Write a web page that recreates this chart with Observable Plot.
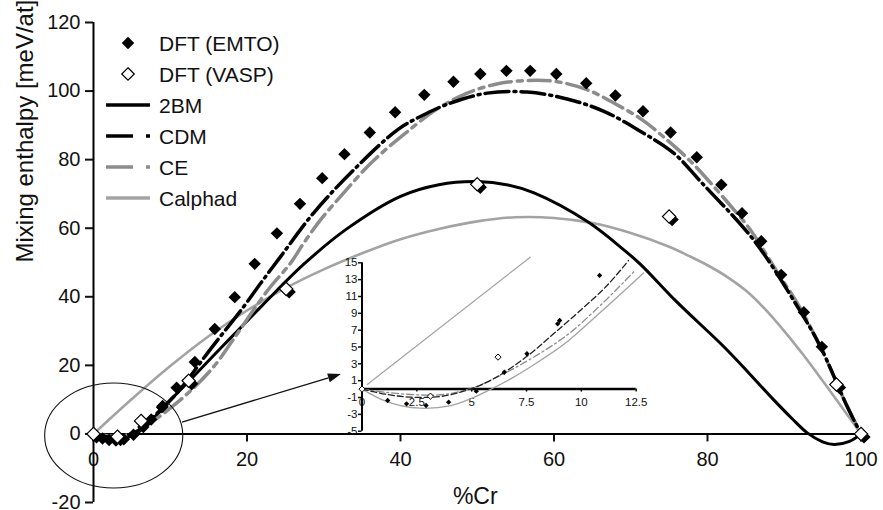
<!DOCTYPE html>
<html>
<head>
<meta charset="utf-8">
<script src="https://cdn.jsdelivr.net/npm/d3@7"></script>
<script src="https://cdn.jsdelivr.net/npm/@observablehq/plot@0.6"></script>
<style>
  html, body { margin: 0; padding: 0; background: #fff; }
  #wrap { position: relative; width: 883px; height: 510px; }
  #wrap svg { position: absolute; left: 0; top: 0; }
</style>
</head>
<body>
<div id="wrap"></div>
<script>
// ---------- main chart data ----------
const xTicks = [0, 20, 40, 60, 80, 100];
const yTicks = [-20, 0, 20, 40, 60, 80, 100, 120];

const emto = [[1.17,-1.35],[2.03,-1.75],[2.92,-1.95],[3.95,-1.55],[5.21,-0.25],[6.49,2.0],[7.52,4.2],[8.92,7.75],[9.01,8.15],[10.83,13.5],[13.2,21.0],[15.8,30.6],[18.4,39.9],[21.0,49.6],[23.9,58.5],[26.9,67.1],[29.8,74.6],[32.7,81.6],[36.0,87.9],[39.3,93.8],[43.1,98.9],[46.9,102.7],[50.4,105.0],[53.8,105.9],[56.9,105.9],[60.3,105.0],[64.2,102.3],[68.0,98.7],[71.6,94.1],[75.2,87.9],[78.6,80.7],[81.8,72.7],[84.5,64.4],[87.0,56.2],[89.6,46.4],[92.55,35.5],[94.9,25.4]];
const vasp = [[0,0],[3.12,-0.8],[6.2,3.8],[12.4,15.5],[25.1,42.3],[50,72.8],[75,63.4],[96.8,14.4],[100,0]];

const bm2 = [[0,0],[1.5,-1.2],[3,-1.6],[4.5,-1.0],[6,0.8],[8,5],[10,9.8],[12.5,15.5],[17,26],[22,37.5],[27.4,49.5],[33,59.8],[40,69.3],[45,72.7],[50,73.6],[54,72.6],[57.4,70.3],[64.3,62],[69.1,53.7],[71.3,49.4],[76,38.5],[82.1,25.5],[85.5,17.5],[88.6,10],[91,4.5],[93,0.3],[95,-2.3],[96.5,-3.1],[98.5,-2.2],[100,0]];
const cdm = [[0,0],[1.2,-0.6],[2.2,-1],[3.6,-0.9],[4.6,-0.2],[5.7,0.8],[7.4,4.2],[10.9,12],[15.2,24.6],[19.6,37.2],[21.8,44],[24.4,51.8],[28.7,64.5],[33.9,77],[39.6,88.7],[42.6,92.6],[46.5,96.5],[51.3,99.4],[56.5,99.7],[61.7,97.7],[66.5,94.1],[71.3,88.2],[75.6,81.9],[79.1,73.6],[86,56.6],[91.7,37.2],[94.7,25.5],[98.2,8],[100,0]];
const ce = [[0,0],[1.2,-0.4],[2.5,-0.7],[3.7,-0.6],[5,0.2],[6.3,1.6],[7.8,3.8],[10,7.5],[12.6,12.5],[15.7,19.7],[18.2,27.5],[22.6,41.6],[25.7,49.9],[27.4,55.7],[29.6,62.5],[32.6,70.3],[35.7,78],[38.3,83.4],[40.9,88.2],[44.7,94.7],[48.7,99.4],[52.4,102],[56.5,103.1],[60.2,102.8],[64.3,100.4],[67.8,96.5],[71.5,91.6],[74.7,85.8],[77.8,79.5],[80.6,72.7],[83.4,65.5],[85.6,59.5],[89,47.5],[92,37],[95,24],[98,9],[100,0]];
const calphad = [[0,0],[5,10.2],[10,19.8],[15,28.5],[20,36],[25,42.5],[30,48],[35,52.7],[40,56.8],[45,59.8],[50,62],[55,63.2],[60,63],[65,61.5],[70,58.6],[75,54.6],[77.5,52],[80,49.2],[82.5,45.9],[85,41.8],[87.5,36.4],[90,30],[92.5,23],[95,15.5],[97.5,7.8],[100,0]];

const legendLabels = ["DFT (EMTO)", "DFT (VASP)", "2BM", "CDM", "CE", "Calphad"];

// ---------- inset data ----------
const insetXTicks = [0, 2.5, 5, 7.5, 10, 12.5];
const insetYTicks = [-5, -3, -1, 1, 3, 5, 7, 9, 11, 13, 15];
const insetEmto = emto.filter(d => d[0] <= 12.5);
const insetVasp = [[0,0],[3.12,-0.84],[6.2,3.8]];
const insetCalphad = [[0.24,0.55],[7.67,15.66]];
const insetLower = [[0,0],[0.99,-1.35],[1.75,-1.95],[2.66,-2.27],[3.95,-2.03],[4.94,-1.16],[5.85,-0.05],[6.91,1.42],[8.13,3.4],[9.34,5.6],[10.86,9.1],[12.38,12.7],[12.83,13.8]];
const insetCdm = [[0,0],[1.15,-0.64],[2.21,-0.96],[3.57,-0.88],[4.64,-0.24],[5.7,0.82],[6.61,2.2],[7.67,4.19],[8.73,6.56],[9.95,9.33],[11.17,12.3],[12.15,15.27]];
const insetCe = [[0,0],[1.15,-0.4],[2.51,-0.68],[3.72,-0.64],[5,0.1],[6.31,1.62],[7.82,3.79],[9.34,6.4],[10.86,9.93],[12.38,13.9]];

// annotation (data units of main chart)
const zoomEllipse = {cx: 2.7, cy: -0.6, rx: 9.0, ry: 15.3};
const zoomArrow = {x1: 11.6, y1: 3.3, x2: 32.3, y2: 17.3};

const FONT = "'Liberation Sans', Arial, Helvetica, sans-serif";
const INK = "#111";
const GRAY1 = "#a3a3a3";
const GRAY2 = "#8c8c8c";

// ---------- main plot geometry ----------
const W = 883, H = 510;
const mL = 93, mR = 22.5, mT = 22, mB = 8;
const yDom = [d3.min(yTicks), d3.max(yTicks)];
const xDom = [d3.min(xTicks), d3.max(xTicks)];
const xAxisShift = -((0 - yDom[0]) / (yDom[1] - yDom[0])) * (H - mT - mB);

const X = d => d[0], Y = d => d[1];

function annotationMark(index, scales) {
  const {x, y} = scales;
  const g = d3.create("svg:g");
  const e = zoomEllipse;
  g.append("ellipse")
    .attr("cx", x(e.cx)).attr("cy", y(e.cy))
    .attr("rx", x(e.cx + e.rx) - x(e.cx)).attr("ry", y(e.cy) - y(e.cy + e.ry))
    .attr("fill", "none").attr("stroke", INK).attr("stroke-width", 1.1);
  const a = zoomArrow;
  const x1 = x(a.x1), y1 = y(a.y1), x2 = x(a.x2), y2 = y(a.y2);
  const ang = Math.atan2(y2 - y1, x2 - x1);
  const hl = 13, hw = 4.5;
  const bx = x2 - hl * Math.cos(ang), by = y2 - hl * Math.sin(ang);
  g.append("line").attr("x1", x1).attr("y1", y1).attr("x2", bx).attr("y2", by)
    .attr("stroke", INK).attr("stroke-width", 1.3);
  const px = -Math.sin(ang), py = Math.cos(ang);
  g.append("path")
    .attr("d", `M${x2},${y2}L${bx + hw * px},${by + hw * py}L${bx - hw * px},${by - hw * py}Z`)
    .attr("fill", INK);
  return g.node();
}

function legendMark() {
  const g = d3.create("svg:g").attr("font-family", FONT).attr("font-size", 21)
    .attr("fill", INK).attr("text-anchor", "start");
  const top = 43, step = 31, symX = 128, lineX1 = 106, lineX2 = 150, textX = 159;
  const diamond = d3.symbol(d3.symbolDiamond2, 100);
  const styles = [
    null, null,
    {stroke: "#000", w: 3.5, dash: null},
    {stroke: "#000", w: 3.5, dash: "27,13,4,20"},
    {stroke: GRAY2, w: 3.5, dash: "27,13,4,20"},
    {stroke: GRAY1, w: 3.5, dash: null}
  ];
  legendLabels.forEach((label, i) => {
    const yy = top + i * step;
    if (i === 0) {
      g.append("path").attr("d", diamond()).attr("transform", `translate(${symX},${yy})`).attr("fill", "#000");
    } else if (i === 1) {
      g.append("path").attr("d", diamond()).attr("transform", `translate(${symX},${yy})`)
        .attr("fill", "#fff").attr("stroke", "#000").attr("stroke-width", 1.2);
    } else {
      const s = styles[i];
      const ln = g.append("line").attr("x1", lineX1).attr("x2", lineX2).attr("y1", yy).attr("y2", yy)
        .attr("stroke", s.stroke).attr("stroke-width", s.w);
      if (s.dash) ln.attr("stroke-dasharray", s.dash);
    }
    g.append("text").attr("x", textX).attr("y", yy).attr("dy", "0.36em").text(label);
  });
  return g.node();
}

const main = Plot.plot({
  width: W, height: H,
  marginLeft: mL, marginRight: mR, marginTop: mT, marginBottom: mB,
  style: {fontFamily: FONT, color: INK, background: "white", overflow: "visible"},
  x: {domain: xDom},
  y: {domain: yDom},
  marks: [
    Plot.axisY({ticks: yTicks, tickSize: 8, tickPadding: 5, fontSize: 20, strokeWidth: 2, tickFormat: d => String(d), label: null}),
    Plot.axisX({ticks: xTicks, tickSize: 8, tickPadding: 10, fontSize: 20, strokeWidth: 2, dy: xAxisShift, tickFormat: d => String(d), label: null}),
    Plot.ruleX([xDom[0]], {y1: yDom[0], y2: yDom[1], stroke: "#000", strokeWidth: 2}),
    Plot.ruleY([0], {x1: xDom[0], x2: xDom[1], stroke: "#000", strokeWidth: 2}),
    Plot.text(["Mixing enthalpy [meV/at]"], {frameAnchor: "left", dx: -68, dy: 0, rotate: -90, fontSize: 24, fill: INK}),
    Plot.text(["%Cr"], {frameAnchor: "bottom", dy: -6, dx: -2, lineAnchor: "middle", fontSize: 23, fill: INK}),
    Plot.line(calphad, {x: X, y: Y, stroke: GRAY1, strokeWidth: 2.6, curve: "catmull-rom"}),
    Plot.line(bm2, {x: X, y: Y, stroke: "#000", strokeWidth: 3, curve: "catmull-rom"}),
    Plot.line(ce, {x: X, y: Y, stroke: GRAY2, strokeWidth: 3.5, strokeDasharray: "22,6,5,6", curve: "catmull-rom"}),
    Plot.line(cdm, {x: X, y: Y, stroke: "#000", strokeWidth: 3.5, strokeDasharray: "24,5,2,5", curve: "catmull-rom"}),
    annotationMark,
    Plot.dot(emto, {x: X, y: Y, symbol: "diamond2", r: 5.6, fill: "#000", stroke: "none"}),
    Plot.dot(vasp, {x: X, y: Y, symbol: "diamond2", r: 6, fill: "#000", stroke: "none", dx: 3, dy: 3}),
    Plot.dot(vasp, {x: X, y: Y, symbol: "diamond2", r: 6, fill: "#fff", stroke: "#000", strokeWidth: 1.2}),
    legendMark
  ]
});

// ---------- inset plot geometry ----------
const iL = 361.5, iR = W - 635.7, iT = 262.3, iB = H - 430.7;
const iyDom = [d3.min(insetYTicks), d3.max(insetYTicks)];
const ixDom = [d3.min(insetXTicks), d3.max(insetXTicks)];
const insetAxisShift = -((0 - iyDom[0]) / (iyDom[1] - iyDom[0])) * (H - iT - iB);

const inset = Plot.plot({
  width: W, height: H,
  marginLeft: iL, marginRight: iR, marginTop: iT, marginBottom: iB,
  style: {fontFamily: FONT, color: INK, background: "transparent", overflow: "visible"},
  x: {domain: ixDom},
  y: {domain: iyDom},
  marks: [
    Plot.axisY({ticks: insetYTicks, tickSize: 3.5, tickPadding: 1, fontSize: 11.5, strokeWidth: 1.5, tickFormat: d => String(d), label: null}),
    Plot.axisX({ticks: insetXTicks, tickSize: 3, tickPadding: 6, fontSize: 11.5, strokeWidth: 1.5, dy: insetAxisShift, tickFormat: d => String(d), label: null}),
    Plot.ruleX([ixDom[0]], {y1: iyDom[0], y2: iyDom[1], stroke: "#000", strokeWidth: 2}),
    Plot.ruleY([0], {x1: ixDom[0], x2: ixDom[1], stroke: "#000", strokeWidth: 2.5}),
    Plot.line(insetCalphad, {x: X, y: Y, stroke: GRAY1, strokeWidth: 1.2}),
    Plot.line(insetLower, {x: X, y: Y, stroke: GRAY1, strokeWidth: 1.3, curve: "catmull-rom"}),
    Plot.line(insetCe, {x: X, y: Y, stroke: GRAY2, strokeWidth: 1.3, strokeDasharray: "7,3,2,3", curve: "catmull-rom"}),
    Plot.line(insetCdm, {x: X, y: Y, stroke: "#222", strokeWidth: 1.3, strokeDasharray: "6,3", curve: "catmull-rom"}),
    Plot.dot(insetEmto, {x: X, y: Y, symbol: "diamond2", r: 2.4, fill: "#000", stroke: "none"}),
    Plot.dot(insetVasp, {x: X, y: Y, symbol: "diamond2", r: 2.8, fill: "#fff", stroke: "#000", strokeWidth: 1})
  ]
});

const wrap = document.getElementById("wrap");
wrap.appendChild(main);
wrap.appendChild(inset);
</script>
</body>
</html>
